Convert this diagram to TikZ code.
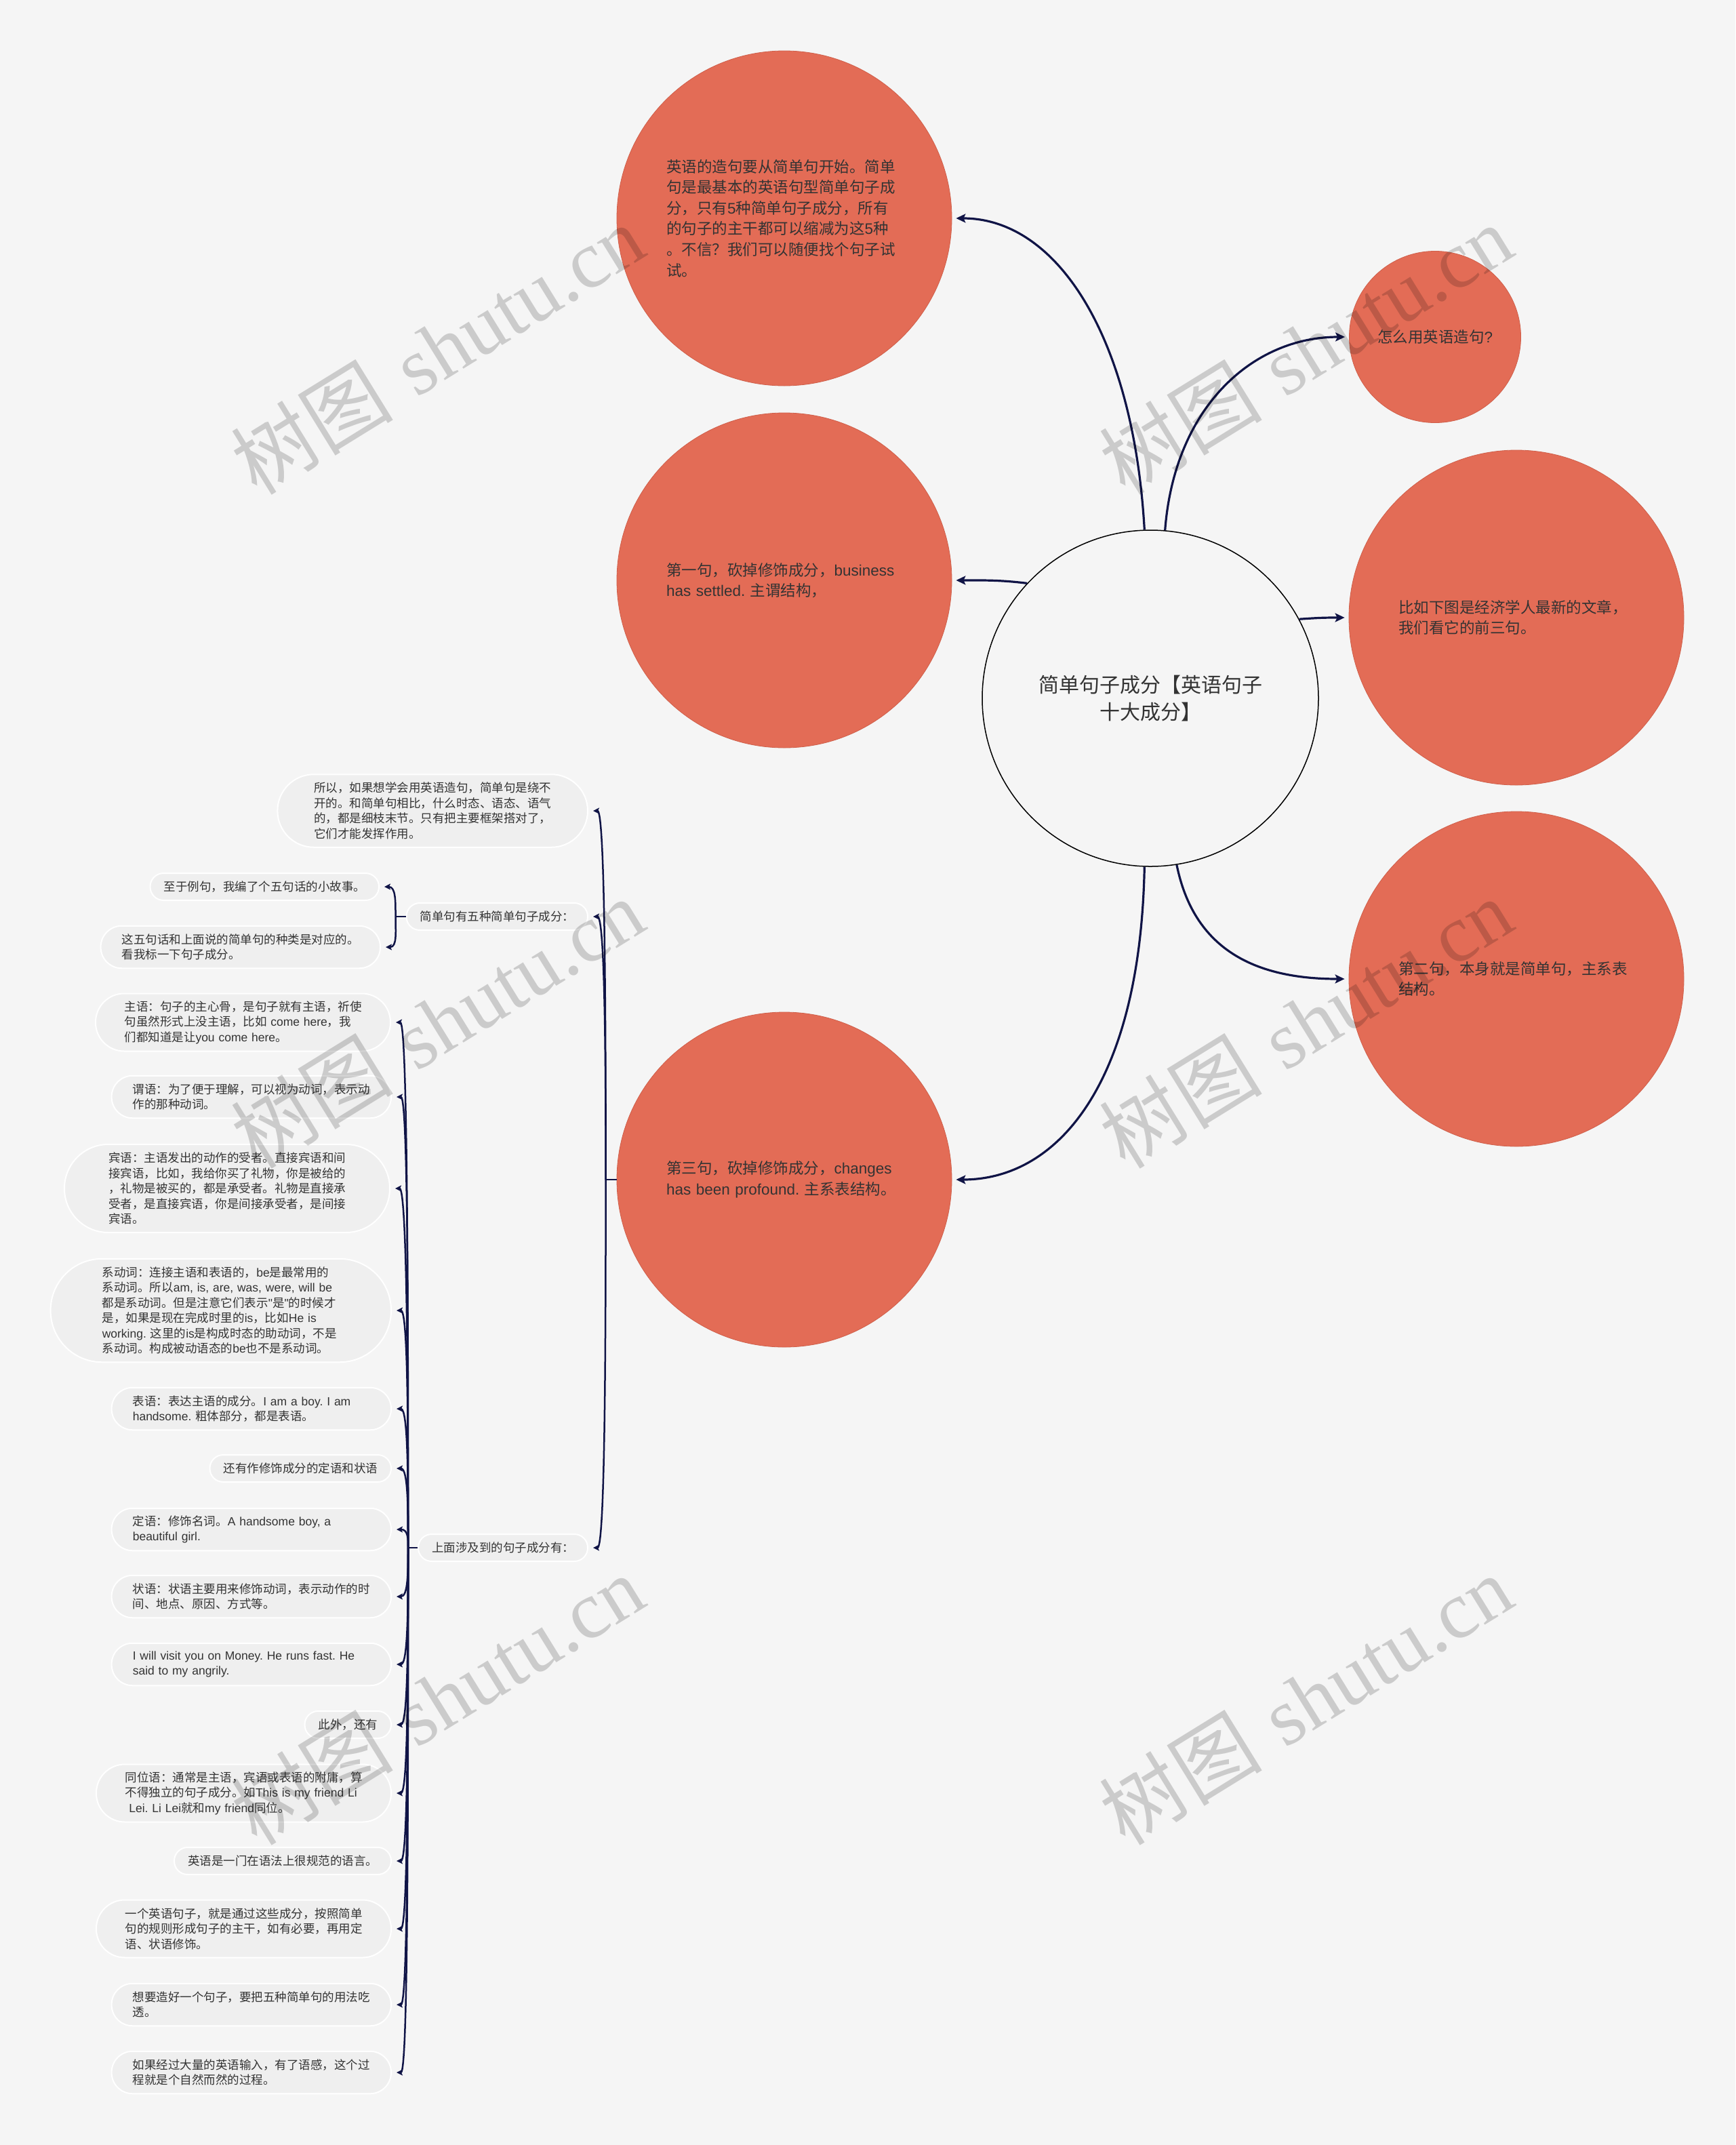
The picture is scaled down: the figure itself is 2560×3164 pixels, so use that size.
\documentclass[tikz,border=0pt]{standalone}
\usepackage{fontspec}
\usetikzlibrary{arrows.meta,calc}
\newfontfamily\cjk{Noto Sans CJK SC}
\newfontfamily\lat{Liberation Sans}
\newfontfamily\wmserif{Liberation Serif}
% automatic switching: CJK characters in Noto Sans CJK, Latin in Liberation Sans
\XeTeXinterchartokenstate=1
\newXeTeXintercharclass\cjkcls
\makeatletter
\count@="3000
\loop\ifnum\count@<"3040 \XeTeXcharclass\count@=\cjkcls \advance\count@ 1 \repeat
\count@="4E00
\loop\ifnum\count@<"A000 \XeTeXcharclass\count@=\cjkcls \advance\count@ 1 \repeat
\count@="FF00
\loop\ifnum\count@<"FFF0 \XeTeXcharclass\count@=\cjkcls \advance\count@ 1 \repeat
\makeatother
\XeTeXinterchartoks 0 \cjkcls = {\cjk}
\XeTeXinterchartoks 4095 \cjkcls = {\cjk}
\XeTeXinterchartoks \cjkcls 0 = {\lat}
\XeTeXinterchartoks \cjkcls 4095 = {\lat}
\definecolor{bgc}{HTML}{F5F5F5}
\definecolor{orng}{HTML}{E36C56}
\definecolor{orngedge}{HTML}{CF5F4A}
\definecolor{navy}{HTML}{101446}
\definecolor{pillc}{HTML}{EFEFEF}
\definecolor{txt}{HTML}{333333}
\newcommand\tedge[2]{\draw[treearrow] (#1) .. controls ($(#1)!0.5!(#1|-#2.east)$) and ($(#2.east)+(24,0)$) .. ([xshift=3.5pt]#2.east);}
\begin{document}
\frenchspacing
\begin{tikzpicture}[x=0.5pt,y=-0.5pt,
  bubble/.style={circle, fill=orng, draw=orngedge, line width=0.4pt, minimum size=247pt, inner sep=0pt, text=txt, font=\lat\fontsize{11.25}{15.3}\selectfont},
  bigtext/.style={text width=174pt, align=left},
  hub/.style={circle, draw=black, line width=0.75pt, minimum size=248pt, inner sep=0pt, text=txt, align=center, font=\lat\fontsize{15}{19.75}\selectfont},
  pill/.style={rectangle, fill=pillc, draw=white, line width=1pt, inner ysep=0pt, align=left, anchor=east, text=txt, font=\lat\fontsize{8.75}{11.25}\selectfont},
  l1/.style={minimum height=20pt, inner xsep=10pt, rounded corners=9.9pt},
  l2/.style={text width=175pt, minimum height=31.25pt, inner xsep=15.6pt, rounded corners=15.5pt},
  l3/.style={text width=175pt, minimum height=42.5pt, inner xsep=21.25pt, rounded corners=21.1pt},
  l4/.style={text width=175pt, minimum height=53.75pt, inner xsep=26.9pt, rounded corners=26.8pt},
  l5/.style={text width=175pt, minimum height=65pt, inner xsep=32.5pt, rounded corners=32.4pt},
  l6/.style={text width=175pt, minimum height=76.25pt, inner xsep=38.1pt, rounded corners=38pt},
  mainline/.style={draw=navy, line width=1.6pt, -{Stealth[length=7pt,width=6.5pt,inset=1.5pt]}},
  treeline/.style={draw=navy, line width=1.25pt},
  treearrow/.style={treeline, -{Stealth[length=4.5pt,width=4.5pt,inset=1pt]}},
  wm/.style={rotate=31.7, text=black, text opacity=0.17, inner sep=0pt, font=\fontsize{60}{60}\selectfont}
]
\fill[bgc] (0,0) rectangle (2560,3164);
\useasboundingbox (0,0) rectangle (2560,3164);

% central topic
\node[hub] (hub) at (1697,1030) {简单句子成分【英语句子\\十大成分】};

% orange bubbles
\node[bubble, bigtext] (A) at (1157,322) {英语的造句要从简单句开始。简单\\句是最基本的英语句型简单句子成\\分，只有5种简单句子成分，所有\\的句子的主干都可以缩减为这5种\\。不信？我们可以随便找个句子试\\试。};
\node[bubble, bigtext] (B) at (1157,856) {\mbox{第一句，砍掉修饰成分，business}\\\mbox{has settled. 主谓结构，}};
\node[bubble, bigtext] (C) at (1157,1740) {\mbox{第三句，砍掉修饰成分，changes}\\\mbox{has been profound. 主系表结构。}};
\node[bubble, minimum size=126.5pt] (D) at (2117,497) {怎么用英语造句?};
\node[bubble, bigtext] (E) at (2237,911) {比如下图是经济学人最新的文章，\\我们看它的前三句。};
\node[bubble, bigtext] (F) at (2237,1444) {第二句，本身就是简单句，主系表\\结构。};

% main connectors
\draw[mainline] (hub.92.5) .. controls +(-16,-283) and +(150,0) .. ([xshift=3pt]A.east);
\draw[mainline] (hub.137) .. controls +(-40,-5) and +(40,0) .. ([xshift=3pt]B.east);
\draw[mainline] (hub.-92.5) .. controls +(-6,320) and +(150,0) .. ([xshift=3pt]C.east);
\draw[mainline] (hub.85.6) .. controls +(14,-183) and +(-135,0) .. ([xshift=-3pt]D.west);
\draw[mainline] (hub.28.4) .. controls +(30,-2) and +(-30,0) .. ([xshift=-3pt]E.west);
\draw[mainline] (hub.-81.3) .. controls +(25,123) and +(-135,0) .. ([xshift=-3pt]F.west);

% level 2 pills
\node[pill, l4] (n1) at (868,1196) {所以，如果想学会用英语造句，简单句是绕不\\开的。和简单句相比，什么时态、语态、语气\\的，都是细枝末节。只有把主要框架搭对了，\\它们才能发挥作用。};
\node[pill, l1] (n2) at (868,1352) {简单句有五种简单句子成分：};
\node[pill, l1] (n5) at (868,2283) {上面涉及到的句子成分有：};

% children of n2
\node[pill, l1] (n3) at (560,1308) {至于例句，我编了个五句话的小故事。};
\node[pill, l2] (n4) at (562,1397) {这五句话和上面说的简单句的种类是对应的。\\看我标一下句子成分。};

% children of n5
\node[pill, l3] (n6) at (577,1508) {主语：句子的主心骨，是句子就有主语，祈使\\句虽然形式上没主语，比如 come here，我\\们都知道是让you come here。};
\node[pill, l2] (n7) at (578,1618) {谓语：为了便于理解，可以视为动词，表示动\\作的那种动词。};
\node[pill, l5] (n8) at (576,1753) {宾语：主语发出的动作的受者。直接宾语和间\\接宾语，比如，我给你买了礼物，你是被给的\\，礼物是被买的，都是承受者。礼物是直接承\\受者，是直接宾语，你是间接承受者，是间接\\宾语。};
\node[pill, l6] (n9) at (578,1933) {系动词：连接主语和表语的，be是最常用的\\系动词。所以am, is, are, was, were, will be\\都是系动词。但是注意它们表示"是"的时候才\\是，如果是现在完成时里的is，比如He is\\working. 这里的is是构成时态的助动词，不是\\系动词。构成被动语态的be也不是系动词。};
\node[pill, l2] (n10) at (578,2078) {表语：表达主语的成分。I am a boy. I am\\handsome. 粗体部分，都是表语。};
\node[pill, l1] (n11) at (578,2166) {还有作修饰成分的定语和状语};
\node[pill, l2] (n12) at (578,2256) {定语：修饰名词。A handsome boy, a\\beautiful girl.};
\node[pill, l2] (n13) at (578,2355) {状语：状语主要用来修饰动词，表示动作的时\\间、地点、原因、方式等。};
\node[pill, l2] (n14) at (578,2455) {I will visit you on Money. He runs fast. He\\said to my angrily.};
\node[pill, l1] (n15) at (578,2544) {此外，还有};
\node[pill, l3] (n16) at (578,2645) {同位语：通常是主语，宾语或表语的附庸，算\\不得独立的句子成分。如This is my friend Li\\\ Lei. Li Lei就和my friend同位。};
\node[pill, l1] (n17) at (578,2745) {英语是一门在语法上很规范的语言。};
\node[pill, l3] (n18) at (578,2845) {一个英语句子，就是通过这些成分，按照简单\\句的规则形成句子的主干，如有必要，再用定\\语、状语修饰。};
\node[pill, l2] (n19) at (578,2957) {想要造好一个句子，要把五种简单句的用法吃\\透。};
\node[pill, l2] (n20) at (578,3057) {如果经过大量的英语输入，有了语感，这个过\\程就是个自然而然的过程。};

% junctions
\coordinate (j1) at ([xshift=-8pt]C.west);
\coordinate (j2) at ([xshift=-7.5pt]n2.west);
\coordinate (j3) at ([xshift=-7pt]n5.west);

\draw[treeline] (C.west) -- (j1);
\tedge{j1}{n1}
\tedge{j1}{n2}
\tedge{j1}{n5}

\draw[treeline] (n2.west) -- (j2);
\tedge{j2}{n3}
\tedge{j2}{n4}

\draw[treeline] (n5.west) -- (j3);
\foreach \k in {6,...,20}{\tedge{j3}{n\k}}

% watermarks
\node[wm] (w1) at (645,515) {{\cjk 树图} {\wmserif shutu.cn}};
\node[wm] (w2) at (1926,515) {{\cjk 树图} {\wmserif shutu.cn}};
\node[wm] (w3) at (645,1509) {{\cjk 树图} {\wmserif shutu.cn}};
\node[wm] (w4) at (1926,1509) {{\cjk 树图} {\wmserif shutu.cn}};
\node[wm] (w5) at (645,2507) {{\cjk 树图} {\wmserif shutu.cn}};
\node[wm] (w6) at (1926,2507) {{\cjk 树图} {\wmserif shutu.cn}};
\end{tikzpicture}
\end{document}
